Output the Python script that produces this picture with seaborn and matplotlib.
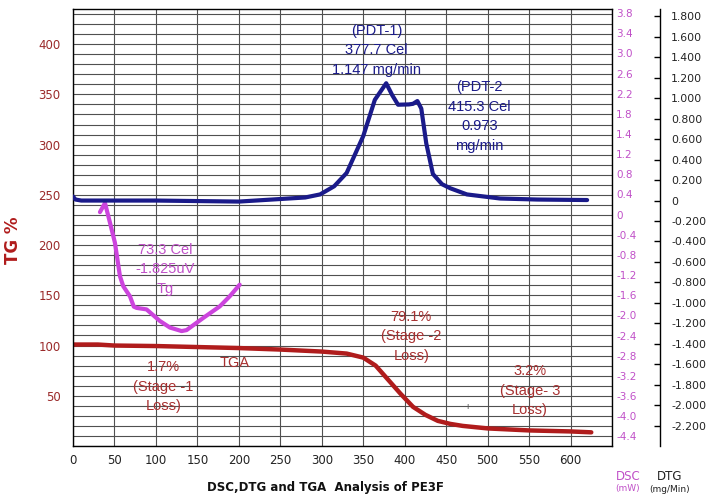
import matplotlib
matplotlib.use("Agg")
import matplotlib.pyplot as plt
from matplotlib.ticker import FixedLocator, FixedFormatter, MultipleLocator
import seaborn as sns

sns.set_theme(style="white")
plt.rcParams['font.family'] = ['DejaVu Sans']

# ---- TGA (weight %) ----
tga_temp = [0, 30, 50, 100, 150, 200, 250, 300, 330, 350, 365, 380, 395, 410,
            425, 440, 455, 470, 500, 550, 600, 625]
tga_pct = [101.0, 101.0, 100, 99.5, 98.5, 97.5, 96, 94, 92, 88, 80, 66, 52, 39,
           31, 25, 22, 20, 17.5, 15.5, 14.5, 13.6]

# ---- DTG (mg/min) ----
dtg_temp = [0, 3, 10, 50, 100, 150, 200, 250, 280, 298, 315, 330, 350, 364,
            377.7, 385, 392, 405, 410, 415.3, 420, 426, 434, 445, 455, 475,
            495, 515, 560, 620]
dtg_rate = [0.04, 0.01, 0.0, 0.0, 0.0, -0.005, -0.01, 0.015, 0.03, 0.06, 0.14,
            0.27, 0.63, 0.985, 1.147, 1.03, 0.937, 0.94, 0.946, 0.973, 0.90,
            0.56, 0.26, 0.16, 0.12, 0.06, 0.04, 0.02, 0.01, 0.005]

# ---- DSC (mW) ----
dsc_temp = [32.5, 38.6, 44.6, 50.6, 56.6, 60.6, 68.7, 73.3, 76.7, 88.7, 104.8,
            116.9, 131, 137, 157, 177, 189, 201]
dsc_flow = [0.05, 0.23, -0.16, -0.56, -1.22, -1.42, -1.62, -1.825, -1.85, -1.88,
            -2.11, -2.24, -2.31, -2.29, -2.05, -1.82, -1.62, -1.39]

# ---- axis labels ----
x_ticks = [0, 50, 100, 150, 200, 250, 300, 350, 400, 450, 500, 550, 600]
tg_ticks = [50, 100, 150, 200, 250, 300, 350, 400]
dsc_tick_labels = ["3.8", "3.4", "3.0", "2.6", "2.2", "1.8", "1.4", "1.2", "0.8",
                   "0.4", "0", "-0.4", "-0.8", "-1.2", "-1.6", "-2.0", "-2.4",
                   "-2.8", "-3.2", "-3.6", "-4.0", "-4.4"]
dtg_tick_values = [1.8, 1.6, 1.4, 1.2, 1.0, 0.8, 0.6, 0.4, 0.2, 0.0, -0.2, -0.4,
                   -0.6, -0.8, -1.0, -1.2, -1.4, -1.6, -1.8, -2.0, -2.2]
dtg_tick_labels = ["1.800", "1.600", "1.400", "1.200", "1.000", "0.800", "0.600",
                   "0.400", "0.200", "0", "-0.200", "-0.400", "-0.600", "-0.800",
                   "-1.000", "-1.200", "-1.400", "-1.600", "-1.800", "-2.000",
                   "-2.200"]

RED = "#B01C1C"
RED_TXT = "#A83030"
BLUE = "#1A1A8A"
PINK = "#CC44DD"
PINK_TXT = "#C050C8"

W, H = 707, 501
fig = plt.figure(figsize=(W / 100, H / 100), dpi=100)
fig.patch.set_facecolor("white")
L, R, T, B = 73, 612, 9, 446
ax = fig.add_axes([L / W, 1 - B / H, (R - L) / W, (B - T) / H])

ax.set_xlim(0, 650)
ax.set_ylim(0, 435)
ax.xaxis.set_major_locator(FixedLocator(x_ticks))
ax.yaxis.set_major_locator(FixedLocator(tg_ticks))
ax.xaxis.set_minor_locator(MultipleLocator(50))
ax.yaxis.set_minor_locator(MultipleLocator(10))
ax.xaxis.remove_overlapping_locs = False
ax.yaxis.remove_overlapping_locs = False
ax.grid(which="minor", axis="both", color="#505050", linewidth=0.8)
ax.set_axisbelow(True)
ax.tick_params(axis="x", which="both", length=0, labelsize=8.5, labelcolor="#222222", pad=6)
ax.tick_params(axis="y", which="both", length=0, labelsize=8.5, labelcolor="#9A2A2A", pad=9)
for s in ax.spines.values():
    s.set_color("black")
    s.set_linewidth(1.0)
ax.set_ylabel("TG %", fontsize=12, fontweight="bold", color=RED)
ax.yaxis.set_label_coords((22 - L) / (R - L), (B - 240) / (B - T))

sns.lineplot(x=tga_temp, y=tga_pct, ax=ax, color=RED, linewidth=3.2,
             estimator=None, sort=False)

# DSC axis: labels sit just outside the frame
ax_dsc = ax.twinx()
ax_dsc.set_ylim(-4.59, 4.08)
dsc_pos = [4.0 - 0.4 * i for i in range(len(dsc_tick_labels))]
ax_dsc.yaxis.set_major_locator(FixedLocator(dsc_pos))
ax_dsc.yaxis.set_major_formatter(FixedFormatter(dsc_tick_labels))
ax_dsc.tick_params(axis="y", length=0, labelsize=7.5, labelcolor=PINK_TXT, pad=3)
for s in ax_dsc.spines.values():
    s.set_visible(False)
sns.lineplot(x=dsc_temp, y=dsc_flow, ax=ax_dsc, color=PINK, linewidth=3,
             estimator=None, sort=False)

# DTG axis on an offset spine
ax_dtg = ax.twinx()
ax_dtg.set_ylim(-2.40, 1.873)
ax_dtg.spines["right"].set_position(("axes", (660 - L) / (R - L)))
for name in ("left", "top", "bottom"):
    ax_dtg.spines[name].set_visible(False)
ax_dtg.spines["right"].set_color("black")
ax_dtg.spines["right"].set_linewidth(1.0)
ax_dtg.yaxis.set_major_locator(FixedLocator(dtg_tick_values))
ax_dtg.yaxis.set_major_formatter(FixedFormatter(dtg_tick_labels))
ax_dtg.tick_params(axis="y", direction="in", length=4, width=1, color="black",
                   labelsize=7.8, labelcolor="#222222", pad=8)
sns.lineplot(x=dtg_temp, y=dtg_rate, ax=ax_dtg, color=BLUE, linewidth=3,
             estimator=None, sort=False)
ax_dtg.set_xlim(0, 650)
ax_dsc.set_xlim(0, 650)
for a in (ax_dsc, ax_dtg):
    a.set_xlabel("")
    a.set_ylabel("")
ax.set_xlabel("")

# annotations
ann = dict(fontsize=10.5, ha="center", va="center", linespacing=1.5,
           family=["Liberation Sans"])
ax.text(366, 394, "(PDT-1)\n377.7 Cel\n1.147 mg/min", color=BLUE, **ann)
ax.text(490, 328, "(PDT-2\n415.3 Cel\n0.973\nmg/min", color=BLUE, **ann)
ax.text(111, 176, "73.3 Cel\n-1.825uV\nTg", color=PINK_TXT, **ann)
ax.text(109, 59, "1.7%\n(Stage -1\nLoss)", color=RED_TXT, **ann)
ax.text(195, 83, "TGA", color=RED_TXT, **ann)
ax.text(408, 109, "79.1%\n(Stage -2\nLoss)", color=RED_TXT, **ann)
ax.text(551, 55, "3.2%\n(Stage- 3\nLoss)", color=RED_TXT, **ann)
ax.text(476, 39, "ı", color="#555555", fontsize=6, ha="center", va="center")

fig.text(325 / W, 1 - 487 / H, "DSC,DTG and TGA  Analysis of PE3F",
         fontsize=8.5, fontweight="bold", ha="center", va="center", color="#111111")
fig.text(628 / W, 1 - 476 / H, "DSC", fontsize=8.5, color=PINK_TXT, ha="center", va="center")
fig.text(628 / W, 1 - 489 / H, "(mW)", fontsize=6.5, color=PINK_TXT, ha="center", va="center")
fig.text(670 / W, 1 - 476 / H, "DTG", fontsize=8.5, color="#222222", ha="center", va="center")
fig.text(670 / W, 1 - 489 / H, "(mg/Min)", fontsize=6.5, color="#222222", ha="center", va="center")

fig.savefig("out.png", dpi=100)
